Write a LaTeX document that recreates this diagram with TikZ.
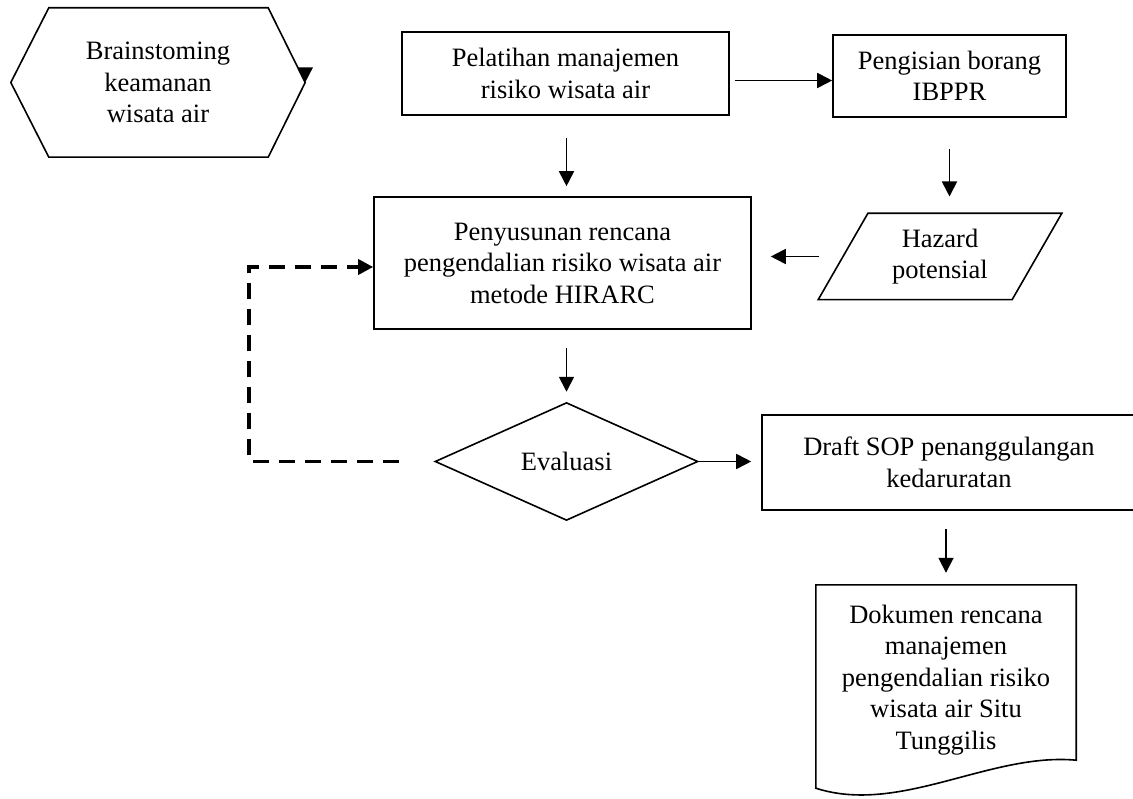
\documentclass[tikz,border=0pt]{standalone}
\usepackage{fontspec}
\setmainfont{Liberation Serif}
\usepackage{tikz}
\usetikzlibrary{positioning,shapes.geometric,arrows.meta,calc}

\begin{document}
\begin{tikzpicture}[x=1pt, y=-1pt,
  every node/.style={font=\fontsize{26.5}{31.5}\selectfont, align=center},
  bx/.style={draw, line width=1.6pt, inner sep=4pt},
  io/.style={draw, trapezium, trapezium left angle=60, trapezium right angle=120,
             line width=1.6pt, inner sep=2pt},
  dec/.style={draw, diamond, line width=1.6pt, inner sep=2pt},
  ar/.style={-{Triangle[length=15pt,width=15pt]}, line width=1.8pt},
  fb/.style={dash pattern=on 16pt off 10pt, line width=3.5pt,
             -{Triangle[length=15pt,width=15pt]}},
]
\useasboundingbox (0,0) rectangle (1133,799);
% start
\node[minimum width=294pt, minimum height=149pt] (brain) at (158,82.5) {Brainstoming\\keamanan\\wisata air};
\draw[line width=1.6pt] (brain.west) -- ([xshift=38pt]brain.north west) -- ([xshift=-37pt]brain.north east)
  -- (brain.east) -- ([xshift=-37pt]brain.south east) -- ([xshift=38pt]brain.south west) -- cycle;
\draw[ar] ([yshift=12pt]brain.east) -- (brain.east);
% process boxes
\node[bx, minimum width=327pt, minimum height=83pt] (pel) at (565.5,73.5) {Pelatihan manajemen\\risiko wisata air};
\node[bx, minimum width=233pt, minimum height=82pt] (isi) at (949.5,76) {Pengisian borang\\IBPPR};
\node[bx, minimum width=377pt, minimum height=132pt] (plan) at (562.5,263) {Penyusunan rencana\\pengendalian risiko wisata air\\metode HIRARC};
\node[io, minimum width=244pt, minimum height=85pt] (haz) at (940,256.5) {Hazard\\potensial};
\node[dec, minimum width=263pt, minimum height=113pt] (eval) at (566.5,461.5) {Evaluasi};
\node[bx, minimum width=374pt, minimum height=95pt] (draft) at (949,462.5) {Draft SOP penanggulangan\\kedaruratan};
% document
\node[minimum width=260pt, minimum height=190pt] (dok) at (946,680) {Dokumen rencana\\manajemen\\pengendalian risiko\\wisata air Situ\\Tunggilis};
\draw[line width=1.6pt] (dok.north west) -- (dok.north east) -- ([yshift=15pt]dok.south east)
  .. controls ([xshift=-86pt,yshift=23pt]dok.south east) and ([xshift=84pt,yshift=-40pt]dok.south west)
  .. ([yshift=-13pt]dok.south west) -- cycle;
% arrows
\draw[ar, shorten <=5pt] ([yshift=-7pt]pel.east) -- ([yshift=-7pt]pel.east -| isi.west);
\draw[ar, shorten <=22pt, shorten >=10pt] (pel.south -| eval.north) -- (plan.north -| eval.north);
\draw[ar, shorten <=31pt, shorten >=16pt] (isi.south) -- (isi.south |- haz.north);
\draw[ar, shorten >=19pt] ([xshift=-23pt]haz.west) -- (plan.east |- haz.west);
\draw[ar, shorten <=18pt, shorten >=10pt] (plan.south -| eval.north) -- (eval.north);
\draw[ar, shorten >=10pt] (eval.east) -- (eval.east -| draft.west);
\draw[ar, shorten <=18pt, shorten >=12pt] (draft.south -| dok.north) -- (dok.north);
\draw[fb] ([xshift=-35pt]eval.west) -- ++(-150pt,0) |- ([yshift=-4pt]plan.west);
\end{tikzpicture}
\end{document}
